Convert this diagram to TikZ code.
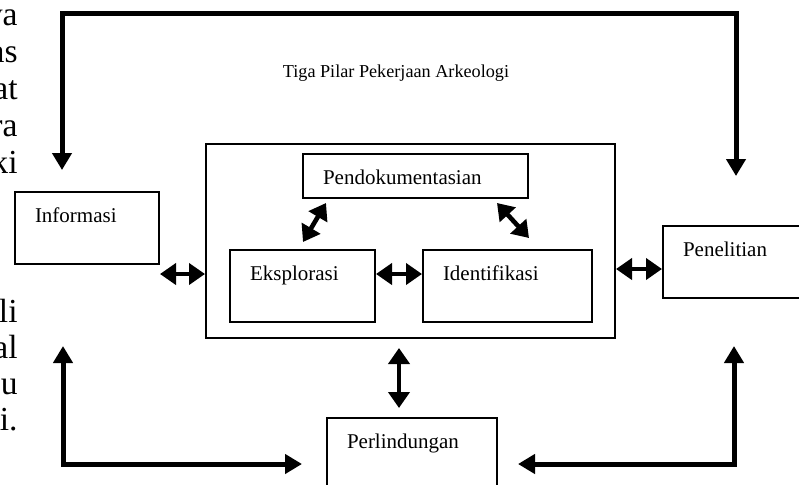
\documentclass[tikz,border=0pt]{standalone}
\usepackage{fontspec}
\setmainfont{Liberation Serif}
\usetikzlibrary{arrows.meta}

\tikzset{
  kotak/.style={draw, line width=1pt, anchor=north west, align=left,
    inner xsep=10pt, inner ysep=0pt, text height=15pt,
    font=\fontsize{10.5}{12}\selectfont},
  tebal/.style={line width=2.5pt,
    {Triangle[length=8.5pt,width=9.5pt]}-{Triangle[length=8.5pt,width=9.5pt]}},
  ganda/.style={line width=2.3pt,
    {Triangle[length=8pt,width=10.5pt]}-{Triangle[length=8pt,width=10.5pt]}},
  sisa/.style={anchor=base east, inner sep=0pt,
    font=\fontsize{16.8}{18.5}\selectfont}
}

\begin{document}
\begin{tikzpicture}[x=0.5pt, y=-0.5pt]
\useasboundingbox (0,0) rectangle (799,484);

% potongan teks paragraf di tepi kiri
\foreach \t/\y [count=\n] in {va/25, as/62, at/99, ra/136, ki/173, li/322, al/358, u/394, i./430}
  \node[sisa] (sisa\n) at (18,\y) {\t};

\node[anchor=base, font=\fontsize{9.1}{11}\selectfont] (judul) at (396,77) {Tiga Pilar Pekerjaan Arkeologi};

% kotak besar tiga pilar
\node[draw, line width=1pt, anchor=north west, inner sep=0pt,
  minimum width=204.5pt, minimum height=97pt] (pilar) at (205,143) {};

\node[kotak, text width=92.5pt, text depth=7pt] (pendok) at (302,153) {Pendokumentasian};
\node[kotak, text width=52.5pt, text depth=21pt] (eksplor) at (229,249) {Eksplorasi};
\node[kotak, text width=64.5pt, text depth=21pt] (identi) at (422,249) {Identifikasi};

\node[kotak, text width=52pt, text depth=21pt] (info) at (14,191) {Informasi};
\node[kotak, text width=52.5pt, text depth=21pt] (peneliti) at (662,225) {Penelitian};
\node[kotak, text width=65pt, text depth=25pt] (perlindung) at (326,417) {Perlindungan};

% ujung panah tebal
\coordinate (atas) at (400,13);
\coordinate (ujung1) at (62,170);
\coordinate (ujung2) at (736,176);
\coordinate (ujung3) at (63,346);
\coordinate (ujung4) at (302,464);
\coordinate (ujung5) at (518,464);
\coordinate (ujung6) at (734,346);

\draw[tebal] (ujung1) |- (atas) -| (ujung2);
\draw[tebal] (ujung3) |- (ujung4);
\draw[tebal] (ujung5) -| (ujung6);

% panah dua arah
\draw[ganda] ([yshift=-4.5pt]info.south east) -- ([yshift=-4.5pt]info.south east -| pilar.west);
\draw[ganda] ([yshift=-3.5pt]peneliti.west -| pilar.east) -- ([yshift=-3.5pt]peneliti.west);
\draw[ganda] ([yshift=6pt]eksplor.east) -- ([yshift=6pt]identi.west);
\draw[ganda] ([xshift=12pt,yshift=-2pt]pendok.south west) -- ([xshift=37pt,yshift=3.5pt]eksplor.north west);
\draw[ganda] ([xshift=-16pt,yshift=-2pt]pendok.south east) -- ([xshift=-32pt,yshift=5.5pt]identi.north east);
\draw[ganda] ([xshift=-5.75pt,yshift=-4.5pt]pilar.south) -- ([xshift=-5.75pt,yshift=4.5pt]pilar.south |- perlindung.north);
\end{tikzpicture}
\end{document}
